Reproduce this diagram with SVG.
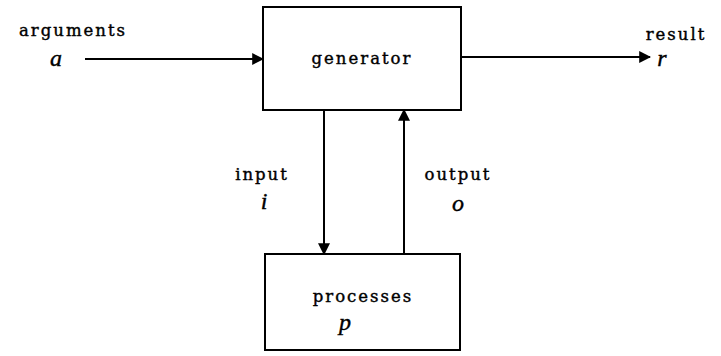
<svg xmlns="http://www.w3.org/2000/svg" width="721" height="356" viewBox="0 0 721 356">
<style>
.box{fill:#fff;stroke:#000;stroke-width:2}
.ln{stroke:#000;stroke-width:2;fill:none}
.t{font-family:"DejaVu Serif","Liberation Serif",serif;font-size:16.5px;letter-spacing:2px;fill:#000;stroke:#000;stroke-width:0.4}
.s{font-family:"Liberation Serif","DejaVu Serif",serif;font-style:italic;font-size:24px;fill:#000;stroke:#000;stroke-width:0.4}
</style>
<defs>
<marker id="ah" viewBox="0 0 10 10" refX="9" refY="5" markerWidth="6" markerHeight="6" orient="auto" markerUnits="strokeWidth">
<path d="M0,0 L10,5 L0,10 Z" fill="#000"/>
</marker>
</defs>
<rect width="721" height="356" fill="#fff"/>
<g id="connectors">
<line class="ln" x1="85" y1="59" x2="263" y2="59" marker-end="url(#ah)"/>
<line class="ln" x1="461" y1="57" x2="650" y2="57" marker-end="url(#ah)"/>
<line class="ln" x1="324" y1="110" x2="324" y2="254" marker-end="url(#ah)"/>
<line class="ln" x1="404" y1="254" x2="404" y2="110" marker-end="url(#ah)"/>
</g>
<g id="generator">
<rect class="box" x="263" y="7" width="198" height="103"/>
<text class="t" x="362" y="64" text-anchor="middle">generator</text>
</g>
<g id="processes">
<rect class="box" x="265" y="254" width="195" height="96"/>
<text class="t" x="363" y="302" text-anchor="middle">processes</text>
<text class="s" x="345" y="330" text-anchor="middle">p</text>
</g>
<g id="arguments">
<text class="t" x="73" y="36" text-anchor="middle">arguments</text>
<text class="s" x="56" y="66" text-anchor="middle">a</text>
</g>
<g id="result">
<text class="t" x="676" y="40" text-anchor="middle">result</text>
<text class="s" x="662" y="66" text-anchor="middle">r</text>
</g>
<g id="input">
<text class="t" x="262" y="180" text-anchor="middle">input</text>
<text class="s" x="264" y="209" text-anchor="middle">i</text>
</g>
<g id="output">
<text class="t" x="458" y="180" text-anchor="middle">output</text>
<text class="s" x="458" y="211" text-anchor="middle">o</text>
</g>
</svg>
